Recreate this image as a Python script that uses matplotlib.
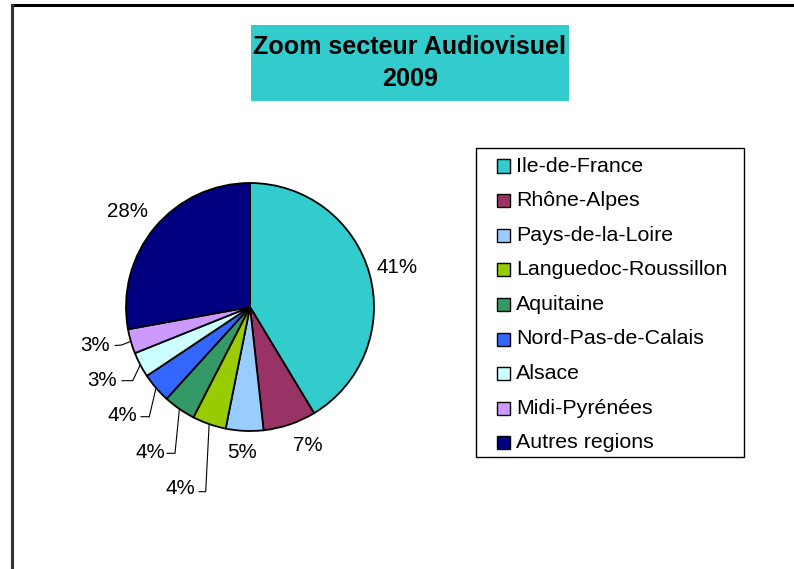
import numpy as np
import matplotlib
matplotlib.use("Agg")
import matplotlib.pyplot as plt
from matplotlib.patches import Rectangle
from matplotlib.lines import Line2D

plt.rcParams['font.family'] = ['Liberation Sans', 'DejaVu Sans']

# ---- data ----
regions = ["Ile-de-France", "Rhône-Alpes", "Pays-de-la-Loire", "Languedoc-Roussillon",
           "Aquitaine", "Nord-Pas-de-Calais", "Alsace", "Midi-Pyrénées", "Autres regions"]
shares = [41.4, 6.9, 4.9, 4.4, 4.2, 3.9, 3.3, 3.2, 27.9]
colors = ["#33CCCC", "#993366", "#99CCFF", "#99CC00", "#339966",
          "#3366FF", "#CCFFFF", "#CC99FF", "#000080"]
title_lines = ["Zoom secteur Audiovisuel", "2009"]

W, H = 794, 569
fig = plt.figure(figsize=(W / 100, H / 100), dpi=100)
fig.patch.set_facecolor("white")

def fx(px):
    return px / W

def fy(py):
    return 1 - py / H

# outer chart border (top and left visible)
fig.add_artist(Line2D([fx(12), fx(794)], [fy(5), fy(5)], color="black", lw=2.2))
fig.add_artist(Line2D([fx(12), fx(12)], [fy(5), fy(569)], color="#333333", lw=2.2))

# pie axes: center (250, 307) px, radius 124 px
R = 124
cx, cy = 250, 307
ax = fig.add_axes([fx(cx - 2 * R), fy(cy + 2 * R), 4 * R / W, 4 * R / H])
wedges, _ = ax.pie(shares, colors=colors, startangle=90, counterclock=False,
                   radius=1.0, center=(0, 0),
                   wedgeprops=dict(edgecolor="black", linewidth=1.3))
ax.set_xlim(-2, 2)
ax.set_ylim(-2, 2)
ax.set_aspect("auto")
ax.axis("off")

def d(px, py):
    return ((px - cx) / R, (cy - py) / R)

labels = [f"{round(v)}%" for v in shares]
# label layout: text position (px), optional leader path (px)
label_pos = [(397, 268), (308, 446), (242, 453), (180, 489), (150, 453),
             (122, 416), (102, 381), (95, 346), (127, 212)]
leaders = [None, None, None,
           [(205.7, 491.7), (199, 491.7)],
           [(175, 453.3), (167, 453.3)],
           [(149.3, 416.7), (141, 416.7)],
           [(132.7, 380.7), (122, 380.7)],
           [(121.7, 345), (115, 345.5)],
           None]

for w, lab, pos, lead in zip(wedges, labels, label_pos, leaders):
    tx, ty = d(*pos)
    ax.text(tx, ty, lab, ha="center", va="center", fontsize=14.8, color="black")
    if lead is not None:
        ang = np.deg2rad((w.theta1 + w.theta2) / 2)
        sx, sy = np.cos(ang) * 1.0, np.sin(ang) * 1.0
        pts = [(sx, sy)] + [d(*p) for p in lead]
        xs, ys = zip(*pts)
        ax.plot(xs, ys, color="black", lw=0.8)

# title box
fig.add_artist(Rectangle((fx(251), fy(101)), (569 - 251) / W, (101 - 25) / H,
                         facecolor="#33CCCC", edgecolor="none"))
fig.text(fx(410), fy(47), title_lines[0], ha="center", va="center",
         fontsize=18.1, fontweight="bold")
fig.text(fx(410), fy(79.5), title_lines[1], ha="center", va="center",
         fontsize=18.1, fontweight="bold")

# legend (manual)
fig.add_artist(Rectangle((fx(476), fy(457)), (744 - 476) / W, (457 - 148) / H,
                         facecolor="white", edgecolor="black", lw=1.0))
y0, dy = 166, 34.6
for i, (name, col) in enumerate(zip(regions, colors)):
    yy = y0 + i * dy
    fig.add_artist(Rectangle((fx(497), fy(yy + 6.5)), 13 / W, 13 / H,
                             facecolor=col, edgecolor="black", lw=1.0))
    fig.text(fx(516), fy(yy), name, ha="left", va="center", fontsize=15.4)

fig.savefig("out.png", dpi=100)
